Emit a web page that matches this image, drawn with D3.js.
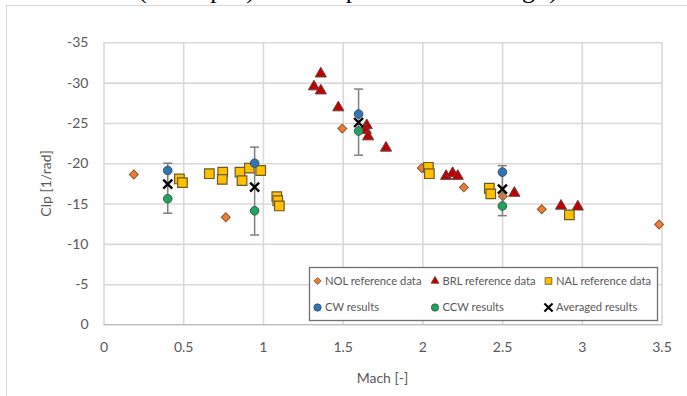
<!DOCTYPE html>
<html>
<head>
<meta charset="utf-8">
<script src="https://cdn.jsdelivr.net/npm/d3@7"></script>
<style>
  html, body { margin: 0; padding: 0; background: #fff; }
  svg { display: block; }
</style>
</head>
<body>
<svg id="chart" width="687" height="396"></svg>
<script>
// Roll damping coefficient Clp versus Mach number

// NOL reference data
const nolMach = [0.19, 0.767, 1.498, 1.996, 2.26, 2.505, 2.749, 3.485];
const nolClp  = [-18.6, -13.3, -24.3, -19.4, -17.0, -15.9, -14.3, -12.4];

// BRL reference data
const brlMach = [1.32, 1.363, 1.363, 1.473, 1.651, 1.645, 1.66, 1.772, 2.149, 2.19, 2.222, 2.577, 2.87, 2.975];
const brlClp  = [-29.5, -31.1, -29.0, -26.9, -24.7, -24.1, -23.3, -21.9, -18.4, -18.75, -18.4, -16.3, -14.7, -14.6];

// NAL reference data
const nalMach = [0.476, 0.495, 0.664, 0.748, 0.745, 0.856, 0.869, 0.915, 0.986, 1.087, 1.093, 1.103, 2.038, 2.044, 2.42, 2.429, 2.922];
const nalClp  = [-18.05, -17.6, -18.7, -18.9, -18.0, -18.9, -17.85, -19.4, -19.1, -15.85, -15.35, -14.7, -19.5, -18.7, -16.9, -16.2, -13.6];

// Computed results
const resMach = [0.403, 0.948, 1.60, 2.502];
const cwClp   = [-19.1, -20.0, -26.1, -18.9];
const ccwClp  = [-15.6, -14.1, -24.0, -14.7];
const avgClp  = [-17.4, -17.05, -25.05, -16.8];
const errPlus  = [2.6, 4.95, 4.15, 2.9];   // towards larger |Clp|
const errMinus = [3.6, 5.95, 4.05, 3.3];   // towards smaller |Clp|

// Axis ticks
const xTicks = [0, 0.5, 1, 1.5, 2, 2.5, 3, 3.5];
const yTicks = [0, -5, -10, -15, -20, -25, -30, -35];

const legendLabels = ["NOL reference data", "BRL reference data", "NAL reference data",
                      "CW results", "CCW results", "Averaged results"];

const svg = d3.select("#chart");
const font = "Lato, 'Open Sans', sans-serif";
const textGray = "#595959";
const gridGray = "#d9d9d9";

// Caption line running above the frame
svg.append("text")
  .attr("x", 138).attr("y", -2)
  .attr("font-family", "'Liberation Serif', serif")
  .attr("font-size", 26)
  .attr("textLength", 420).attr("lengthAdjust", "spacing")
  .attr("fill", "#000")
  .text("(example) of complete Mach range)");

// Outer chart frame
svg.append("rect")
  .attr("x", 6.5).attr("y", 5.5)
  .attr("width", 720).attr("height", 420)
  .attr("fill", "#fff")
  .attr("stroke", gridGray).attr("stroke-width", 1.2);

const x = d3.scaleLinear().domain([0, 3.5]).range([103.5, 661.5]);
const y = d3.scaleLinear().domain([0, -35]).range([324.5, 42.3]);

// Gridlines
const grid = svg.append("g");
grid.append("g")
  .attr("transform", `translate(0,${y(0)})`)
  .call(d3.axisBottom(x).tickValues(xTicks).tickSize(-(y(0) - y(-35))).tickFormat(""))
  .call(g => g.select(".domain").remove())
  .call(g => g.selectAll("line").attr("stroke", gridGray).attr("stroke-width", 1.6));
grid.append("g")
  .attr("transform", `translate(${x(0)},0)`)
  .call(d3.axisLeft(y).tickValues(yTicks).tickSize(-(x(3.5) - x(0))).tickFormat(""))
  .call(g => g.select(".domain").remove())
  .call(g => g.selectAll("line").attr("stroke", gridGray).attr("stroke-width", 1.6));

// Bottom axis line
svg.append("line")
  .attr("x1", x(0)).attr("x2", x(3.5))
  .attr("y1", y(0)).attr("y2", y(0))
  .attr("stroke", "#bfbfbf").attr("stroke-width", 1.2);

// Tick labels
const xAxis = svg.append("g")
  .attr("transform", `translate(0,${y(0)})`)
  .call(d3.axisBottom(x).tickValues(xTicks).tickSize(0).tickPadding(18).tickFormat(d => String(d)));
xAxis.select(".domain").remove();
xAxis.selectAll("text").attr("font-family", font).attr("font-size", 14).attr("fill", textGray);

const yAxis = svg.append("g")
  .attr("transform", `translate(${x(0)},0)`)
  .call(d3.axisLeft(y).tickValues(yTicks).tickSize(0).tickPadding(15).tickFormat(d => String(d)));
yAxis.select(".domain").remove();
yAxis.selectAll("text").attr("font-family", font).attr("font-size", 14).attr("fill", textGray);

// Axis titles
svg.append("text")
  .attr("x", (x(0) + x(3.5)) / 2).attr("y", 383)
  .attr("text-anchor", "middle")
  .attr("font-family", font).attr("font-size", 14).attr("fill", textGray)
  .text("Mach [-]");
svg.append("text")
  .attr("transform", `translate(51,${(y(0) + y(-35)) / 2}) rotate(-90)`)
  .attr("text-anchor", "middle")
  .attr("font-family", font).attr("font-size", 14).attr("fill", textGray)
  .text("Clp [1/rad]");

// Marker shapes
const diamondPath = d3.symbol().type(d3.symbolSquare).size(40)();
const trianglePath = d3.symbol().type(d3.symbolTriangle).size(54)();
const squarePath = d3.symbol().type(d3.symbolSquare).size(92)();
const circlePath = d3.symbol().type(d3.symbolCircle).size(58)();
const crossPath = "M-4.5,-4.5L4.5,4.5M-4.5,4.5L4.5,-4.5";

const styles = {
  nol: { path: diamondPath, rotate: 45, fill: "#ED7D31", stroke: "#8a5a3a", sw: 1 },
  brl: { path: trianglePath, rotate: 0, fill: "#C00000", stroke: "#6b4040", sw: 1 },
  nal: { path: squarePath, rotate: 0, fill: "#FFC000", stroke: "#6d5a2a", sw: 1.2 },
  cw:  { path: circlePath, rotate: 0, fill: "#2E75B6", stroke: "#3d4f62", sw: 1 },
  ccw: { path: circlePath, rotate: 0, fill: "#1FA361", stroke: "#3f5a4a", sw: 1 },
  avg: { path: crossPath, rotate: 0, fill: "none", stroke: "#000", sw: 2.4 }
};

function drawSeries(mach, clp, st) {
  svg.append("g").selectAll("path")
    .data(d3.zip(mach, clp))
    .join("path")
    .attr("d", st.path)
    .attr("transform", d => `translate(${x(d[0])},${y(d[1])}) rotate(${st.rotate})`)
    .attr("fill", st.fill)
    .attr("stroke", st.stroke)
    .attr("stroke-width", st.sw);
}

drawSeries(nolMach, nolClp, styles.nol);
drawSeries(brlMach, brlClp, styles.brl);
drawSeries(nalMach, nalClp, styles.nal);

// Error bars on the averaged results
const errG = svg.append("g").attr("stroke", "#7f7f7f").attr("stroke-width", 1.5);
resMach.forEach((m, i) => {
  const top = y(avgClp[i] - errPlus[i]);
  const bot = y(avgClp[i] + errMinus[i]);
  errG.append("line").attr("x1", x(m)).attr("x2", x(m)).attr("y1", top).attr("y2", bot);
  errG.append("line").attr("x1", x(m) - 4.5).attr("x2", x(m) + 4.5).attr("y1", top).attr("y2", top);
  errG.append("line").attr("x1", x(m) - 4.5).attr("x2", x(m) + 4.5).attr("y1", bot).attr("y2", bot);
});

drawSeries(resMach, cwClp, styles.cw);
drawSeries(resMach, ccwClp, styles.ccw);
drawSeries(resMach, avgClp, styles.avg);

// Legend
const legend = svg.append("g");
legend.append("rect")
  .attr("x", 309.5).attr("y", 267.5).attr("width", 348).attr("height", 53)
  .attr("fill", "#fff").attr("stroke", "#707070").attr("stroke-width", 1.3);
const legendKeys = ["nol", "brl", "nal", "cw", "ccw", "avg"];
const colX = [317.5, 435, 548.5];
const rowY = [281, 307.5];
const legendScale = [0.8, 0.72, 0.7, 0.85, 0.85, 0.9];
legendKeys.forEach((k, i) => {
  const cx = colX[i % 3], cy = rowY[Math.floor(i / 3)];
  const st = styles[k];
  legend.append("path")
    .attr("d", st.path)
    .attr("transform", `translate(${cx},${cy}) rotate(${st.rotate}) scale(${legendScale[i]})`)
    .attr("fill", st.fill).attr("stroke", st.stroke).attr("stroke-width", st.sw);
  legend.append("text")
    .attr("x", cx + 7.5).attr("y", cy).attr("dy", "0.35em")
    .attr("font-family", font).attr("font-size", 11.2).attr("fill", textGray)
    .text(legendLabels[i]);
});
</script>
</body>
</html>
